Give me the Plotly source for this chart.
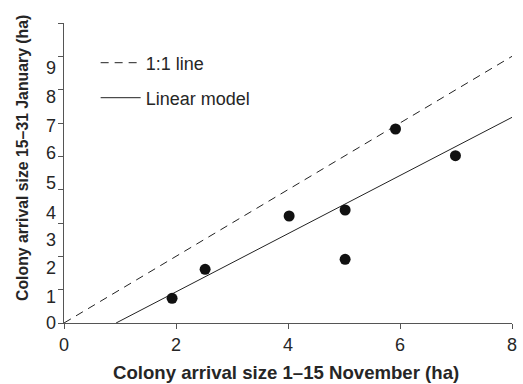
import plotly.graph_objects as go

# Data
nov_size = [1.93, 2.52, 4.02, 5.02, 5.02, 5.92, 6.99]
jan_size = [0.74, 1.61, 3.21, 3.39, 1.91, 5.82, 5.02]

one_to_one_x = [0, 8]
one_to_one_y = [0, 8]

linear_x = [0.93, 8]
linear_y = [0.0, 6.17]

x_ticks = [0, 2, 4, 6, 8]
y_ticks = [0, 1, 2, 3, 4, 5, 6, 7, 8, 9]
y_tick_text = ["0", "1", "2", "3", "4", "5", "6", "7", "8", "9"]
# where the y tick labels actually sit in the reference (they drift from the ticks)
y_label_pos = [0.0, 0.78, 1.65, 2.49, 3.3, 4.2, 5.1, 5.91, 6.78, 7.65]

FONT = "Liberation Sans, Arial, sans-serif"
TXT = "#262626"
AX = "#555555"

fig = go.Figure()

fig.add_trace(go.Scatter(
    x=one_to_one_x, y=one_to_one_y, mode="lines", name="1:1 line",
    line=dict(color="#222222", width=1, dash="8px,6px"),
    legend="legend", cliponaxis=False,
))
fig.add_trace(go.Scatter(
    x=linear_x, y=linear_y, mode="lines", name="Linear model",
    line=dict(color="#222222", width=1),
    legend="legend2", cliponaxis=False,
))
fig.add_trace(go.Scatter(
    x=nov_size, y=jan_size, mode="markers", showlegend=False,
    marker=dict(color="#111111", size=11, symbol="circle"),
    cliponaxis=False,
))
# invisible trace to activate the label axis
fig.add_trace(go.Scatter(
    x=[None], y=[None], yaxis="y2", showlegend=False, hoverinfo="skip",
))

fig.update_layout(
    width=523, height=384,
    margin=dict(l=64, r=6, t=23, b=61),
    plot_bgcolor="white", paper_bgcolor="white",
    font=dict(family=FONT, color=TXT),
    xaxis=dict(
        range=[0, 8], tickvals=x_ticks, ticktext=[str(v) for v in x_ticks],
        showgrid=False, zeroline=False, showline=True, linecolor=AX, linewidth=1.3,
        ticks="outside", ticklen=5, tickcolor=AX, tickwidth=1.3,
        tickfont=dict(size=18, color=TXT, family=FONT),
    ),
    yaxis=dict(
        range=[0, 9], tickvals=y_ticks, showticklabels=False,
        showgrid=False, zeroline=False, showline=True, linecolor=AX, linewidth=1.3,
        ticks="outside", ticklen=5, tickcolor=AX, tickwidth=1.3,
    ),
    yaxis2=dict(
        overlaying="y", side="left", anchor="x", range=[0, 9],
        tickvals=y_label_pos, ticktext=y_tick_text,
        showgrid=False, zeroline=False, showline=False, ticks="",
        ticklabelstandoff=7,
        tickfont=dict(size=18, color=TXT, family=FONT),
    ),
    legend=dict(
        x=(96 - 64) / 453, y=(323 - 63) / 300, xanchor="left", yanchor="middle",
        bgcolor="rgba(0,0,0,0)", font=dict(size=18, color=TXT, family=FONT),
        itemwidth=40,
    ),
    legend2=dict(
        x=(96 - 64) / 453, y=(323 - 98) / 300, xanchor="left", yanchor="middle",
        bgcolor="rgba(0,0,0,0)", font=dict(size=18, color=TXT, family=FONT),
        itemwidth=40,
    ),
    annotations=[
        dict(text="<b>Colony arrival size 1–15 November (ha)</b>",
             xref="paper", yref="paper", x=(288.5 - 64) / 453, y=(323 - 372) / 300,
             xanchor="center", yanchor="middle", showarrow=False,
             font=dict(size=18.6, color=TXT, family=FONT)),
        dict(text="<b>Colony arrival size 15–31 January (ha)</b>",
             xref="paper", yref="paper", x=(22 - 64) / 453, y=(323 - 157.5) / 300,
             xanchor="center", yanchor="middle", showarrow=False, textangle=-90,
             font=dict(size=15.8, color=TXT, family=FONT)),
    ],
)

fig.write_html("out.html")
